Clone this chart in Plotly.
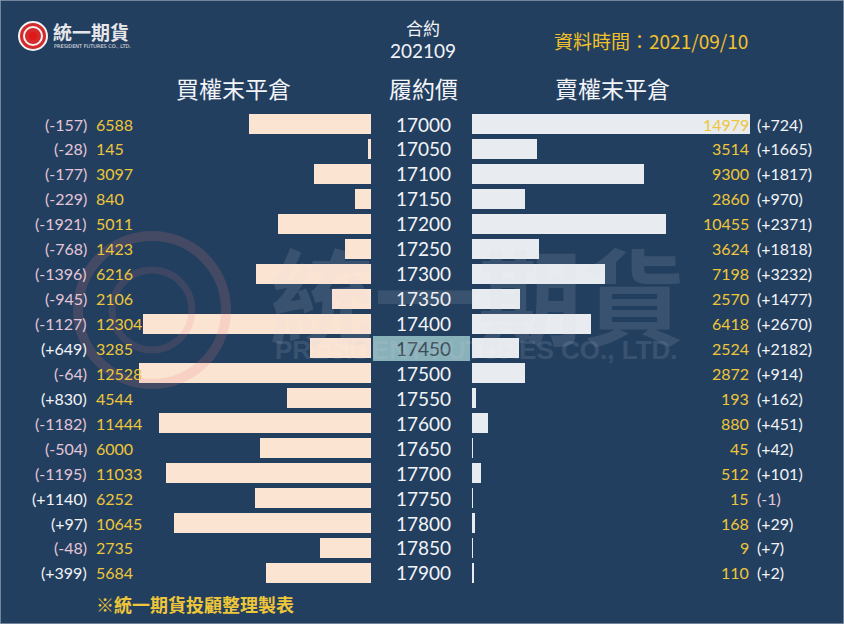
import plotly.graph_objects as go

W, H = 844, 624

strikes = [17000, 17050, 17100, 17150, 17200, 17250, 17300, 17350, 17400, 17450,
           17500, 17550, 17600, 17650, 17700, 17750, 17800, 17850, 17900]
call_oi = [6588, 145, 3097, 840, 5011, 1423, 6216, 2106, 12304, 3285,
           12528, 4544, 11444, 6000, 11033, 6252, 10645, 2735, 5684]
call_chg = [-157, -28, -177, -229, -1921, -768, -1396, -945, -1127, 649,
            -64, 830, -1182, -504, -1195, 1140, 97, -48, 399]
put_oi = [14979, 3514, 9300, 2860, 10455, 3624, 7198, 2570, 6418, 2524,
          2872, 193, 880, 45, 512, 15, 168, 9, 110]
put_chg = [724, 1665, 1817, 970, 2371, 1818, 3232, 1477, 2670, 2182,
           914, 162, 451, 42, 101, -1, 29, 7, 2]
atm_strike = 17450
contract = "202109"
data_date = "2021/09/10"

BG = "#233F5F"
CALL_C = "#FCE4D3"
PUT_C = "#E8ECF0"
GOLD = "#EEC63A"
DATE_GOLD = "#F3C12A"
WHITE = "#F2F4F8"
PINK = "#E4C6D8"
CJK = "Noto Sans CJK TC"
NUM = "Lato"

def px(x):
    return x / W

def py(y):
    return 1 - y / H

# pixel geometry
row0, row_step = 124.0, 24.94
scale = 0.01854  # px per contract
zero_l, zero_r = 371, 472

idx = list(range(len(strikes)))
y_top = -row0 / row_step
y_bot = (H - row0) / row_step

fig = go.Figure()
fig.add_trace(go.Bar(x=call_oi, y=idx, orientation="h", marker=dict(color=CALL_C, line=dict(width=0)),
                     width=0.8, xaxis="x", yaxis="y", hoverinfo="x"))
fig.add_trace(go.Bar(x=put_oi, y=idx, orientation="h", marker=dict(color=PUT_C, line=dict(width=0)),
                     width=0.8, xaxis="x2", yaxis="y", hoverinfo="x"))

ann = []
shapes = []

# ATM highlight cell
atm_i = strikes.index(atm_strike)
shapes.append(dict(type="rect", xref="paper", yref="y", x0=px(373), x1=px(470),
                   y0=atm_i - 0.5, y1=atm_i + 0.5, fillcolor="#89B1BA", line=dict(width=0), layer="below"))

for i, s in enumerate(strikes):
    ann.append(dict(x=px(423), y=i, xref="paper", yref="y", text=str(s), showarrow=False,
                    font=dict(family=NUM, size=19, color="#3B4B57" if s == atm_strike else WHITE),
                    xanchor="center", yanchor="middle"))
    c = call_chg[i]
    ann.append(dict(x=px(89), y=i, xref="paper", yref="y", text=f"({c:+d})", showarrow=False,
                    font=dict(family=NUM, size=16, color=WHITE if c > 0 else PINK),
                    xanchor="right", yanchor="middle"))
    ann.append(dict(x=px(94), y=i, xref="paper", yref="y", text=str(call_oi[i]), showarrow=False,
                    font=dict(family=NUM, size=16, color=GOLD), xanchor="left", yanchor="middle"))
    p = put_chg[i]
    ann.append(dict(x=px(751), y=i, xref="paper", yref="y", text=str(put_oi[i]), showarrow=False,
                    font=dict(family=NUM, size=16, color=GOLD), xanchor="right", yanchor="middle"))
    ann.append(dict(x=px(755), y=i, xref="paper", yref="y", text=f"({p:+d})", showarrow=False,
                    font=dict(family=NUM, size=16, color=WHITE if p > 0 else PINK),
                    xanchor="left", yanchor="middle"))

# headers
ann += [
    dict(x=px(423), y=py(28), text="合約", font=dict(family=CJK, size=17, color=WHITE)),
    dict(x=px(423), y=py(50), text=contract, font=dict(family=NUM, size=19, color=WHITE)),
    dict(x=px(651), y=py(40), text="資料時間：" + data_date, font=dict(family=CJK, size=19, color=DATE_GOLD)),
    dict(x=px(233), y=py(88), text="買權末平倉", font=dict(family=CJK, size=23, color=WHITE)),
    dict(x=px(423), y=py(88), text="履約價", font=dict(family=CJK, size=23, color=WHITE)),
    dict(x=px(612), y=py(88), text="賣權末平倉", font=dict(family=CJK, size=23, color=WHITE)),
    dict(x=px(94), y=py(604), text="<b>※統一期貨投顧整理製表</b>", xanchor="left",
         font=dict(family=CJK, size=18, color=GOLD)),
    # logo text
    dict(x=px(51), y=py(31), text="<b>統一期貨</b>", xanchor="left",
         font=dict(family=CJK, size=19, color="#E6E6EA")),
    dict(x=px(52), y=py(46), text="PRESIDENT FUTURES CO., LTD.", xanchor="left",
         font=dict(family="DejaVu Sans", size=5, color="#E6E6EA")),
    # watermark
    dict(x=px(478), y=py(292), text="<b>統一期貨</b>", opacity=0.12,
         font=dict(family=CJK, size=104, color="#D8D8E0")),
    dict(x=px(476), y=py(350), text="<b>PRESIDENT FUTURES CO., LTD.</b>", opacity=0.12,
         font=dict(family="Liberation Sans", size=26, color="#D8D8E0")),
]
for a in ann:
    a.setdefault("xref", "paper")
    a.setdefault("yref", "paper")
    a.setdefault("showarrow", False)
    a.setdefault("xanchor", "center")
    a.setdefault("yanchor", "middle")

# logo circles
shapes += [
    dict(type="circle", xref="paper", yref="paper", x0=px(19), x1=px(47), y0=py(50), y1=py(22),
         fillcolor="#D42A2A", line=dict(color="#F4F4F4", width=2)),
    dict(type="circle", xref="paper", yref="paper", x0=px(24), x1=px(42), y0=py(45), y1=py(27),
         fillcolor="rgba(0,0,0,0)", line=dict(color="#F4F4F4", width=2)),
    dict(type="circle", xref="paper", yref="paper", x0=px(29), x1=px(37), y0=py(40), y1=py(32),
         fillcolor="#E01818", line=dict(width=0)),
    # watermark circle
    dict(type="circle", xref="paper", yref="paper", x0=px(78), x1=px(226), y0=py(384), y1=py(236),
         fillcolor="rgba(0,0,0,0)", line=dict(color="rgba(220,120,130,0.18)", width=10), layer="above"),
    dict(type="circle", xref="paper", yref="paper", x0=px(112), x1=px(192), y0=py(350), y1=py(270),
         fillcolor="rgba(0,0,0,0)", line=dict(color="rgba(220,120,130,0.14)", width=7), layer="above"),
    # frame
    dict(type="rect", xref="paper", yref="paper", x0=0, x1=1, y0=0, y1=1,
         line=dict(color="#8E9DB0", width=1.5), fillcolor="rgba(0,0,0,0)"),
]

fig.update_layout(
    width=W, height=H, margin=dict(l=0, r=0, t=0, b=0),
    paper_bgcolor=BG, plot_bgcolor=BG, showlegend=False, bargap=0,
    xaxis=dict(domain=[0, px(zero_l)], range=[zero_l / scale, 0], visible=False, fixedrange=True),
    xaxis2=dict(domain=[px(zero_r), 1], range=[0, (W - zero_r) / scale], visible=False, fixedrange=True),
    yaxis=dict(domain=[0, 1], range=[y_bot, y_top], visible=False, fixedrange=True),
    annotations=ann, shapes=shapes,
)

fig.write_html("out.html")
